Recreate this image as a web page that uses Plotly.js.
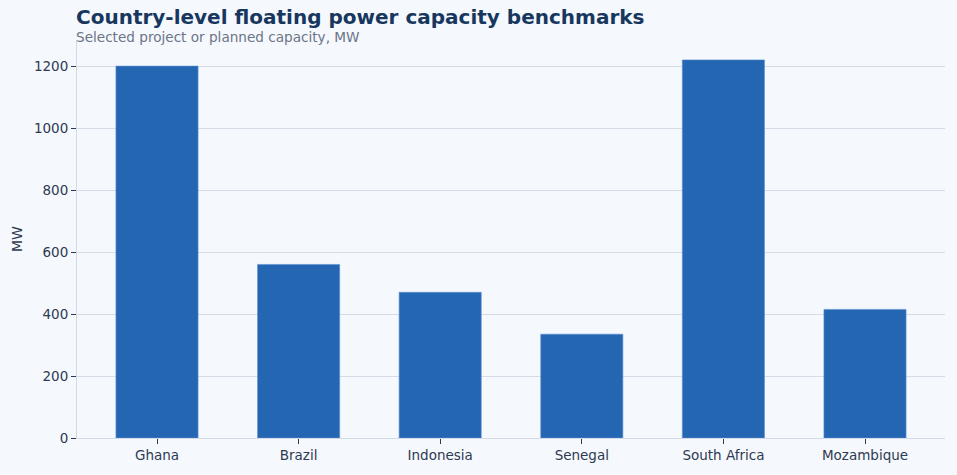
<!DOCTYPE html>
<html>
<head>
<meta charset="utf-8">
<script src="https://cdn.plot.ly/plotly-3.0.1.min.js"></script>
<style>
  html, body { margin: 0; padding: 0; background: #f5f8fc; }
  #chart { width: 957px; height: 475px; }
</style>
</head>
<body>
<div id="chart"></div>
<script>
// Floating power capacity by country, MW
var countries = ['Ghana', 'Brazil', 'Indonesia', 'Senegal', 'South Africa', 'Mozambique'];
var capacityMW = [1200, 560, 470, 335, 1220, 415];

var titleText = 'Country-level floating power capacity benchmarks';
var subtitleText = 'Selected project or planned capacity, MW';

var FONT = 'DejaVu Sans, sans-serif';
var TEXT = '#2e3a52';

var trace = {
  type: 'bar',
  x: countries,
  y: capacityMW,
  marker: { color: '#2466b2', line: { color: '#5a8fd0', width: 0.6 } },
  hoverinfo: 'x+y'
};

var layout = {
  width: 957,
  height: 475,
  margin: { t: 40, r: 12, b: 37, l: 77 },
  paper_bgcolor: '#f5f8fc',
  plot_bgcolor: '#f5f8fc',
  font: { family: FONT, size: 13.5, color: TEXT },
  bargap: 0.42,
  showlegend: false,
  annotations: [
    {
      text: '<b>' + titleText + '</b>',
      font: { family: FONT, size: 20, color: '#17375e' },
      xref: 'paper', x: 0, xanchor: 'left',
      yref: 'paper', y: 1.058, yanchor: 'middle',
      showarrow: false, xshift: -2, borderpad: 0
    },
    {
      text: subtitleText,
      font: { family: FONT, size: 13.6, color: '#6b7488' },
      xref: 'paper', x: 0, xanchor: 'left',
      yref: 'paper', y: 1.008, yanchor: 'middle',
      showarrow: false, xshift: -2, borderpad: 0
    }
  ],
  xaxis: {
    range: [-0.565, 5.565],
    showline: true, linecolor: '#d3dae6', linewidth: 1,
    ticks: 'outside', ticklen: 5, tickcolor: TEXT,
    tickfont: { size: 13.5, color: TEXT },
    showgrid: false
  },
  yaxis: {
    title: { text: 'MW', font: { size: 14, color: TEXT }, standoff: 8 },
    showline: true, linecolor: '#d3dae6', linewidth: 1,
    ticks: 'outside', ticklen: 5, tickcolor: TEXT,
    tickfont: { size: 13.5, color: TEXT },
    gridcolor: '#d5dce8', zeroline: false,
    dtick: 200
  }
};

Plotly.newPlot('chart', [trace], layout, { displayModeBar: false, staticPlot: true });
</script>
</body>
</html>
